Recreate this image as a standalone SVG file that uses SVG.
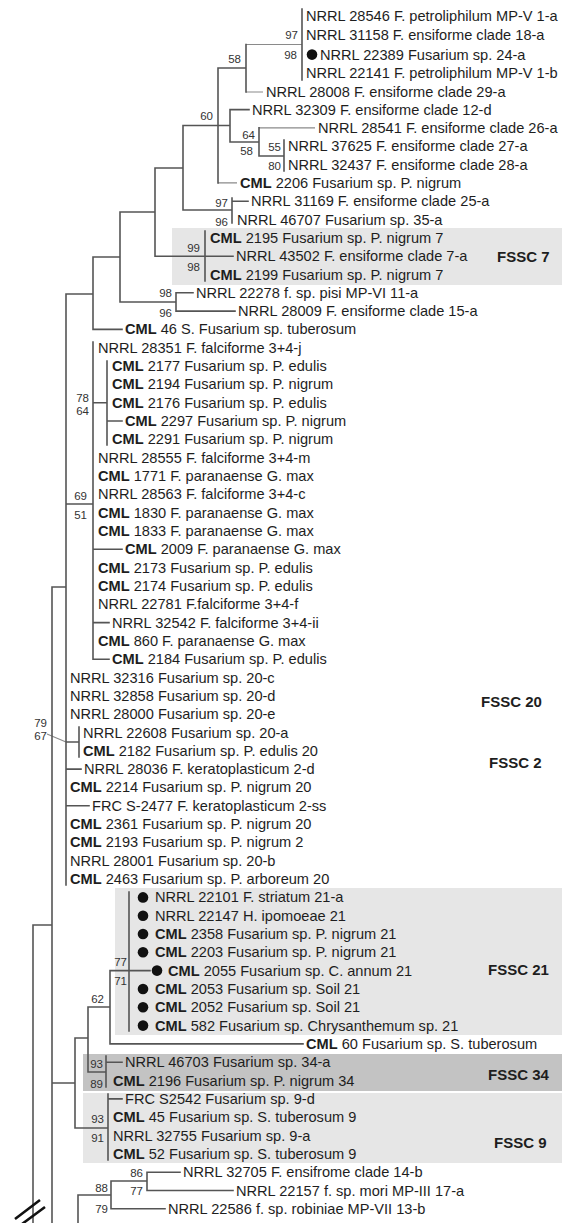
<svg xmlns="http://www.w3.org/2000/svg" width="562" height="1223" viewBox="0 0 562 1223">
<style>
.tx{font-family:"Liberation Sans",Arial,sans-serif;font-size:14.6px;fill:#1e1e1e}
.b{font-weight:bold}
.bs{font-family:"Liberation Sans",Arial,sans-serif;font-size:11.5px;fill:#333;text-anchor:end}
.cl{font-family:"Liberation Sans",Arial,sans-serif;font-size:15px;font-weight:bold;fill:#1e1e1e}
.br{stroke:#555;stroke-width:1.6;fill:none;stroke-linecap:square}
.th{stroke:#8a8a8a;stroke-width:1.2;fill:none}
.dot{fill:#111}
.bx{fill:#e6e6e6}
.bx2{fill:#c3c3c3}
</style>
<rect width="562" height="1223" fill="#fff"/>
<g id="clade-boxes">
<rect class="bx" x="172" y="228" width="390" height="57"/>
<rect class="bx" x="115" y="888" width="447" height="147"/>
<rect class="bx2" x="83" y="1054" width="479" height="37"/>
<rect class="bx" x="83" y="1093" width="479" height="70"/>
</g>
<g id="connectors">
<path class="th" d="M246 44.5H302M218 182.9H237M259 127.9H315M246 92H263M47 734L66 742"/>
<path class="br" d="M302 9V80M246 44.5V92M218 68H246M218 68V182.9M183 125.5H230M230 109.6V142M230 109.6H249M230 142H259M259 127.9V156M259 156H284M284 140V171
M183 125.5V210M183 210H232M232 198V223M232 201.2H248M155 168H183M155 168V256.2M155 256.2H233M205 231V281M120 212H155M120 212V302M120 302H176M176 292.8V311.1M176 292.8H193M176 311.1H235
M93 257H120M93 257V329.4M93 329.4H122M66 294H93M66 294V885M66 504H93M93 342V659.2M93 402.7H107M107 361V445M107 421H122M93 549.3H122M93 622.6H109M93 659.2H109
M66 742H79M79 727V757M66 769.1H81M66 805.8H89M52 587H66M52 587V1223M33 925H52M33 925V1223
M52 1083H75M75 1038V1128M75 1038H88M88 1007V1072M88 1007H110M110 970.6V1043.9M110 1043.9H303M110 970.6H150M129 892V1031M88 1072H106M106 1056V1087M106 1062.2H122M75 1128H108M108 1094V1160M108 1098.9H122
M78 1195V1223M78 1195H111M111 1181V1208.8M111 1208.8H165M111 1181H147M147 1172.2V1190.5M147 1172.2H180M147 1190.5H233"/>
<path d="M15 1219L40 1200M22 1224L45 1207" stroke="#111" stroke-width="2.6" fill="none"/>
</g>
<g id="support">
<text class="bs" x="298" y="39">97</text><text class="bs" x="297" y="59">98</text>
<text class="bs" x="241" y="63">58</text><text class="bs" x="213" y="120">60</text>
<text class="bs" x="255" y="139">64</text><text class="bs" x="253" y="155">58</text>
<text class="bs" x="281" y="151">55</text><text class="bs" x="281" y="170">80</text>
<text class="bs" x="228" y="207">97</text><text class="bs" x="228" y="226">96</text>
<text class="bs" x="200" y="252">99</text><text class="bs" x="200" y="271">98</text>
<text class="bs" x="172" y="297">98</text><text class="bs" x="172" y="317">96</text>
<text class="bs" x="89" y="402">78</text><text class="bs" x="89" y="415">64</text>
<text class="bs" x="87" y="500">69</text><text class="bs" x="87" y="519">51</text>
<text class="bs" x="47" y="727">79</text><text class="bs" x="47" y="740">67</text>
<text class="bs" x="127" y="966">77</text><text class="bs" x="127" y="985">71</text>
<text class="bs" x="104" y="1003">62</text>
<text class="bs" x="103" y="1068">93</text><text class="bs" x="103" y="1088">89</text>
<text class="bs" x="104" y="1123">93</text><text class="bs" x="104" y="1142">91</text>
<text class="bs" x="143" y="1177">86</text><text class="bs" x="143" y="1195">77</text>
<text class="bs" x="108" y="1192">88</text><text class="bs" x="108" y="1213">79</text>
</g>
<g id="clade-labels">
<text class="cl" x="497" y="262">FSSC 7</text>
<text class="cl" x="481" y="707">FSSC 20</text>
<text class="cl" x="489" y="768">FSSC 2</text>
<text class="cl" x="488" y="975">FSSC 21</text>
<text class="cl" x="488" y="1080">FSSC 34</text>
<text class="cl" x="494" y="1148">FSSC 9</text>
</g>
<g id="t01"><text class="tx" x="306" y="21">NRRL 28546 F. petroliphilum MP-V 1-a</text></g>
<g id="t02"><text class="tx" x="306" y="40">NRRL 31158 F. ensiforme clade 18-a</text></g>
<g id="t03"><circle class="dot" cx="312" cy="54.6" r="5.3"/><text class="tx" x="320" y="59.6">NRRL 22389 Fusarium sp. 24-a</text></g>
<g id="t04"><text class="tx" x="306" y="78">NRRL 22141 F. petroliphilum MP-V 1-b</text></g>
<g id="t05"><text class="tx" x="266" y="97">NRRL 28008 F. ensiforme clade 29-a</text></g>
<g id="t06"><text class="tx" x="252" y="114.6">NRRL 32309 F. ensiforme clade 12-d</text></g>
<g id="t07"><text class="tx" x="318" y="132.9">NRRL 28541 F. ensiforme clade 26-a</text></g>
<g id="t08"><text class="tx" x="288" y="151.2">NRRL 37625 F. ensiforme clade 27-a</text></g>
<g id="t09"><text class="tx" x="288" y="169.6">NRRL 32437 F. ensiforme clade 28-a</text></g>
<g id="t10"><text class="tx" x="240" y="187.9"><tspan class="b">CML</tspan> 2206 Fusarium sp. P. nigrum</text></g>
<g id="t11"><text class="tx" x="251" y="206.2">NRRL 31169 F. ensiforme clade 25-a</text></g>
<g id="t12"><text class="tx" x="237" y="224.5">NRRL 46707 Fusarium sp. 35-a</text></g>
<g id="t13"><text class="tx" x="210" y="242.8"><tspan class="b">CML</tspan> 2195 Fusarium sp. P. nigrum 7</text></g>
<g id="t14"><text class="tx" x="236" y="261.2">NRRL 43502 F. ensiforme clade 7-a</text></g>
<g id="t15"><text class="tx" x="210" y="279.5"><tspan class="b">CML</tspan> 2199 Fusarium sp. P. nigrum 7</text></g>
<g id="t16"><text class="tx" x="196" y="297.8">NRRL 22278 f. sp. pisi MP-VI 11-a</text></g>
<g id="t17"><text class="tx" x="238" y="316.1">NRRL 28009 F. ensiforme clade 15-a</text></g>
<g id="t18"><text class="tx" x="125" y="334.4"><tspan class="b">CML</tspan> 46 S. Fusarium sp. tuberosum</text></g>
<g id="t19"><text class="tx" x="98" y="352.8">NRRL 28351 F. falciforme 3+4-j</text></g>
<g id="t20"><text class="tx" x="112" y="371.1"><tspan class="b">CML</tspan> 2177 Fusarium sp. P. edulis</text></g>
<g id="t21"><text class="tx" x="112" y="389.4"><tspan class="b">CML</tspan> 2194 Fusarium sp. P. nigrum</text></g>
<g id="t22"><text class="tx" x="112" y="407.7"><tspan class="b">CML</tspan> 2176 Fusarium sp. P. edulis</text></g>
<g id="t23"><text class="tx" x="125" y="426"><tspan class="b">CML</tspan> 2297 Fusarium sp. P. nigrum</text></g>
<g id="t24"><text class="tx" x="112" y="444.4"><tspan class="b">CML</tspan> 2291 Fusarium sp. P. nigrum</text></g>
<g id="t25"><text class="tx" x="98" y="462.7">NRRL 28555 F. falciforme 3+4-m</text></g>
<g id="t26"><text class="tx" x="98" y="481"><tspan class="b">CML</tspan> 1771 F. paranaense G. max</text></g>
<g id="t27"><text class="tx" x="98" y="499.3">NRRL 28563 F. falciforme 3+4-c</text></g>
<g id="t28"><text class="tx" x="98" y="517.6"><tspan class="b">CML</tspan> 1830 F. paranaense G. max</text></g>
<g id="t29"><text class="tx" x="98" y="536"><tspan class="b">CML</tspan> 1833 F. paranaense G. max</text></g>
<g id="t30"><text class="tx" x="125" y="554.3"><tspan class="b">CML</tspan> 2009 F. paranaense G. max</text></g>
<g id="t31"><text class="tx" x="98" y="572.6"><tspan class="b">CML</tspan> 2173 Fusarium sp. P. edulis</text></g>
<g id="t32"><text class="tx" x="98" y="590.9"><tspan class="b">CML</tspan> 2174 Fusarium sp. P. edulis</text></g>
<g id="t33"><text class="tx" x="98" y="609.2">NRRL 22781 F.falciforme 3+4-f</text></g>
<g id="t34"><text class="tx" x="112" y="627.6">NRRL 32542 F. falciforme 3+4-ii</text></g>
<g id="t35"><text class="tx" x="98" y="645.9"><tspan class="b">CML</tspan> 860 F. paranaense G. max</text></g>
<g id="t36"><text class="tx" x="112" y="664.2"><tspan class="b">CML</tspan> 2184 Fusarium sp. P. edulis</text></g>
<g id="t37"><text class="tx" x="70" y="682.5">NRRL 32316 Fusarium sp. 20-c</text></g>
<g id="t38"><text class="tx" x="70" y="700.8">NRRL 32858 Fusarium sp. 20-d</text></g>
<g id="t39"><text class="tx" x="70" y="719.2">NRRL 28000 Fusarium sp. 20-e</text></g>
<g id="t40"><text class="tx" x="83" y="737.5">NRRL 22608 Fusarium sp. 20-a</text></g>
<g id="t41"><text class="tx" x="83" y="755.8"><tspan class="b">CML</tspan> 2182 Fusarium sp. P. edulis 20</text></g>
<g id="t42"><text class="tx" x="84" y="774.1">NRRL 28036 F. keratoplasticum 2-d</text></g>
<g id="t43"><text class="tx" x="70" y="792.4"><tspan class="b">CML</tspan> 2214 Fusarium sp. P. nigrum 20</text></g>
<g id="t44"><text class="tx" x="92" y="810.8">FRC S-2477 F. keratoplasticum 2-ss</text></g>
<g id="t45"><text class="tx" x="70" y="829.1"><tspan class="b">CML</tspan> 2361 Fusarium sp. P. nigrum 20</text></g>
<g id="t46"><text class="tx" x="70" y="847.4"><tspan class="b">CML</tspan> 2193 Fusarium sp. P. nigrum 2</text></g>
<g id="t47"><text class="tx" x="70" y="865.7">NRRL 28001 Fusarium sp. 20-b</text></g>
<g id="t48"><text class="tx" x="70" y="884"><tspan class="b">CML</tspan> 2463 Fusarium sp. P. arboreum 20</text></g>
<g id="t49"><circle class="dot" cx="143" cy="897.4" r="5.3"/><text class="tx" x="155" y="902.4">NRRL 22101 F. striatum 21-a</text></g>
<g id="t50"><circle class="dot" cx="143" cy="915.7" r="5.3"/><text class="tx" x="155" y="920.7">NRRL 22147 H. ipomoeae 21</text></g>
<g id="t51"><circle class="dot" cx="143" cy="934" r="5.3"/><text class="tx" x="155" y="939"><tspan class="b">CML</tspan> 2358 Fusarium sp. P. nigrum 21</text></g>
<g id="t52"><circle class="dot" cx="143" cy="952.3" r="5.3"/><text class="tx" x="155" y="957.3"><tspan class="b">CML</tspan> 2203 Fusarium sp. P. nigrum 21</text></g>
<g id="t53"><circle class="dot" cx="157" cy="970.6" r="5.3"/><text class="tx" x="168" y="975.6"><tspan class="b">CML</tspan> 2055 Fusarium sp. C. annum 21</text></g>
<g id="t54"><circle class="dot" cx="143" cy="989" r="5.3"/><text class="tx" x="155" y="994"><tspan class="b">CML</tspan> 2053 Fusarium sp. Soil 21</text></g>
<g id="t55"><circle class="dot" cx="143" cy="1007.3" r="5.3"/><text class="tx" x="155" y="1012.3"><tspan class="b">CML</tspan> 2052 Fusarium sp. Soil 21</text></g>
<g id="t56"><circle class="dot" cx="143" cy="1025.6" r="5.3"/><text class="tx" x="155" y="1030.6"><tspan class="b">CML</tspan> 582 Fusarium sp. Chrysanthemum sp. 21</text></g>
<g id="t57"><text class="tx" x="306" y="1048.9"><tspan class="b">CML</tspan> 60 Fusarium sp. S. tuberosum</text></g>
<g id="t58"><text class="tx" x="125" y="1067.2">NRRL 46703 Fusarium sp. 34-a</text></g>
<g id="t59"><text class="tx" x="113" y="1085.6"><tspan class="b">CML</tspan> 2196 Fusarium sp. P. nigrum 34</text></g>
<g id="t60"><text class="tx" x="125" y="1103.9">FRC S2542 Fusarium sp. 9-d</text></g>
<g id="t61"><text class="tx" x="113" y="1122.2"><tspan class="b">CML</tspan> 45 Fusarium sp. S. tuberosum 9</text></g>
<g id="t62"><text class="tx" x="113" y="1140.5">NRRL 32755 Fusarium sp. 9-a</text></g>
<g id="t63"><text class="tx" x="113" y="1158.8"><tspan class="b">CML</tspan> 52 Fusarium sp. S. tuberosum 9</text></g>
<g id="t64"><text class="tx" x="183" y="1177.2">NRRL 32705 F. ensifrome clade 14-b</text></g>
<g id="t65"><text class="tx" x="236" y="1195.5">NRRL 22157 f. sp. mori MP-III 17-a</text></g>
<g id="t66"><text class="tx" x="168" y="1213.8">NRRL 22586 f. sp. robiniae MP-VII 13-b</text></g>
</svg>
